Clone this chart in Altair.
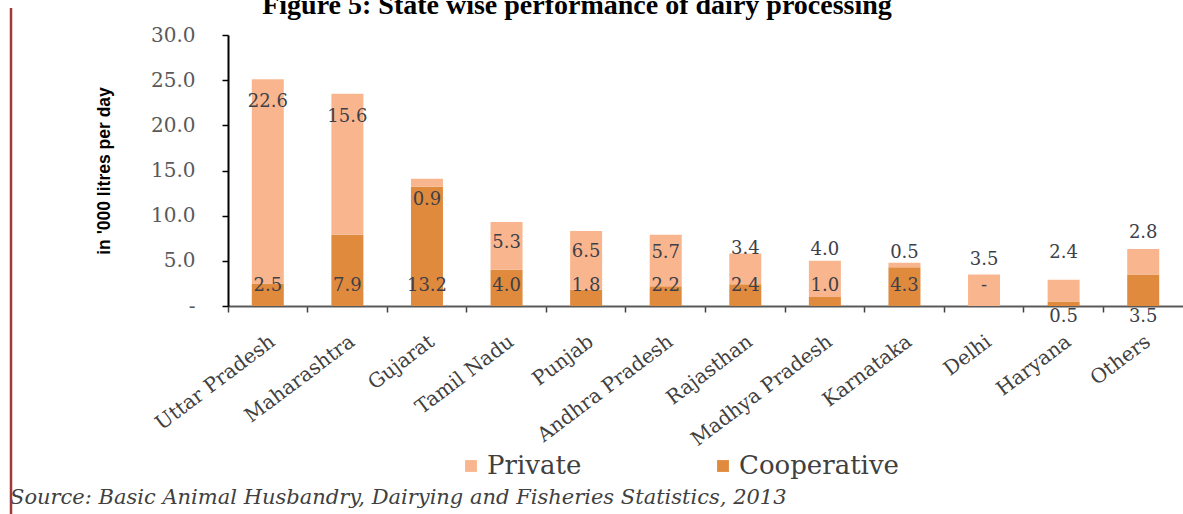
import altair as alt
import pandas as pd

states = ["Uttar Pradesh", "Maharashtra", "Gujarat", "Tamil Nadu", "Punjab",
          "Andhra Pradesh", "Rajasthan", "Madhya Pradesh", "Karnataka",
          "Delhi", "Haryana", "Others"]
cooperative = [2.5, 7.9, 13.2, 4.0, 1.8, 2.2, 2.4, 1.0, 4.3, 0.0, 0.5, 3.5]
private = [22.6, 15.6, 0.9, 5.3, 6.5, 5.7, 3.4, 4.0, 0.5, 3.5, 2.4, 2.8]
# where the data labels sit (in '000 litres per day), as in the original
private_label_at = [22.6, 20.9, 11.7, 7.0, 6.0, 5.9, 6.3, 6.2, 5.9, 5.1, 5.9, 8.1]
coop_label_at = [2.2, 2.2, 2.2, 2.2, 2.2, 2.2, 2.2, 2.2, 2.2, 2.2, -1.2, -1.2]
y_ticks = [0, 5, 10, 15, 20, 25, 30]

series = ["Private", "Cooperative"]
colors = ["#F9B68E", "#E08A3D"]

rows = []
for i, s in enumerate(states):
    rows.append({"state": s, "type": "Cooperative", "value": cooperative[i], "ord": 0})
    rows.append({"state": s, "type": "Private", "value": private[i], "ord": 1})
bars_df = pd.DataFrame(rows)
labels_df = pd.DataFrame({"state": states, "private": private, "coop": cooperative,
                          "py": private_label_at, "cy": coop_label_at})

W, H = 955, 271
PAD_L, PAD_T = 228, 35

serif = "DejaVu Serif"
x_axis = alt.Axis(title=None, labelAngle=-37, labelAlign="right", labelBaseline="middle",
                  labelFont=serif, labelFontSize=20, labelColor="#404040",
                  labelPadding=27, bandPosition=0, labelOffset=5,
                  tickSize=6, tickColor="#404040", tickWidth=1.5,
                  domainColor="#5a5a5a", domainWidth=2)
x_enc = alt.X("state:N", sort=states,
              scale=alt.Scale(paddingInner=0, paddingOuter=0), axis=x_axis)

y_axis = alt.Axis(title="in '000 litres per day", values=y_ticks,
                  labelExpr="datum.value == 0 ? '-' : format(datum.value, '.1f')",
                  labelFont=serif, labelFontSize=20, labelColor="#595959",
                  labelPadding=27, tickSize=6, tickColor="#000000", tickWidth=1.5,
                  domainColor="#000000", domainWidth=2, grid=False,
                  titleFont="Liberation Sans", titleFontSize=17.5,
                  titleFontWeight="bold", titleColor="#000000",
                  titleAngle=-90, titleX=-124, titleY=H / 2, titleAlign="center",
                  titleBaseline="middle")
y_scale = alt.Scale(domain=[0, 30], nice=False)

bars = alt.Chart(bars_df).mark_bar(size=32).encode(
    x=x_enc,
    y=alt.Y("value:Q", stack="zero", scale=y_scale, axis=y_axis),
    color=alt.Color("type:N", scale=alt.Scale(domain=series, range=colors),
                    legend=alt.Legend(orient="none", legendX=230, legendY=418,
                                      direction="horizontal", title=None,
                                      symbolType="square", symbolSize=140,
                                      symbolStrokeWidth=0,
                                      labelFont=serif, labelFontSize=26,
                                      labelColor="#404040", columnPadding=128,
                                      labelOffset=3)),
    order=alt.Order("ord:Q"),
)

priv_text = alt.Chart(labels_df).mark_text(
    font=serif, fontSize=18, color="#3d4048", baseline="middle"
).encode(
    x=x_enc,
    y=alt.Y("py:Q", scale=y_scale, axis=y_axis),
    text=alt.Text("private:Q", format=".1f"),
)

coop_text = alt.Chart(labels_df).transform_calculate(
    ctext="datum.coop == 0 ? '-' : format(datum.coop, '.1f')"
).mark_text(
    font=serif, fontSize=18, color="#3d4048", baseline="middle"
).encode(
    x=x_enc,
    y=alt.Y("cy:Q", scale=y_scale, axis=y_axis),
    text="ctext:N",
)

title = alt.Chart(pd.DataFrame({"t": ["Figure 5: State wise performance of dairy processing"]})).mark_text(
    font="Liberation Serif", fontSize=28, fontWeight="bold", color="#000000",
    align="center", baseline="alphabetic"
).encode(x=alt.value(577 - PAD_L), y=alt.value(14 - PAD_T), text="t:N")

source = alt.Chart(pd.DataFrame({"t": ["Source: Basic Animal Husbandry, Dairying and Fisheries Statistics, 2013"]})).mark_text(
    font="DejaVu Serif", fontSize=21, fontStyle="italic", color="#404040",
    align="left", baseline="alphabetic"
).encode(x=alt.value(10 - PAD_L), y=alt.value(504 - PAD_T), text="t:N")

border = alt.Chart(pd.DataFrame({"a": [0]})).mark_rule(color="#A03A3A", strokeWidth=2.5).encode(
    x=alt.value(11 - PAD_L), y=alt.value(8 - PAD_T), y2=alt.value(514 - PAD_T)
)

chart = alt.layer(bars, priv_text, coop_text, title, source, border).properties(
    width=W, height=H,
    autosize=alt.AutoSizeParams(type="none"),
    padding={"left": PAD_L, "top": PAD_T, "right": 0, "bottom": 514 - PAD_T - H},
    background="white",
).configure_view(stroke=None)

chart.save("out.html", embed_options={"renderer": "svg", "actions": False})
